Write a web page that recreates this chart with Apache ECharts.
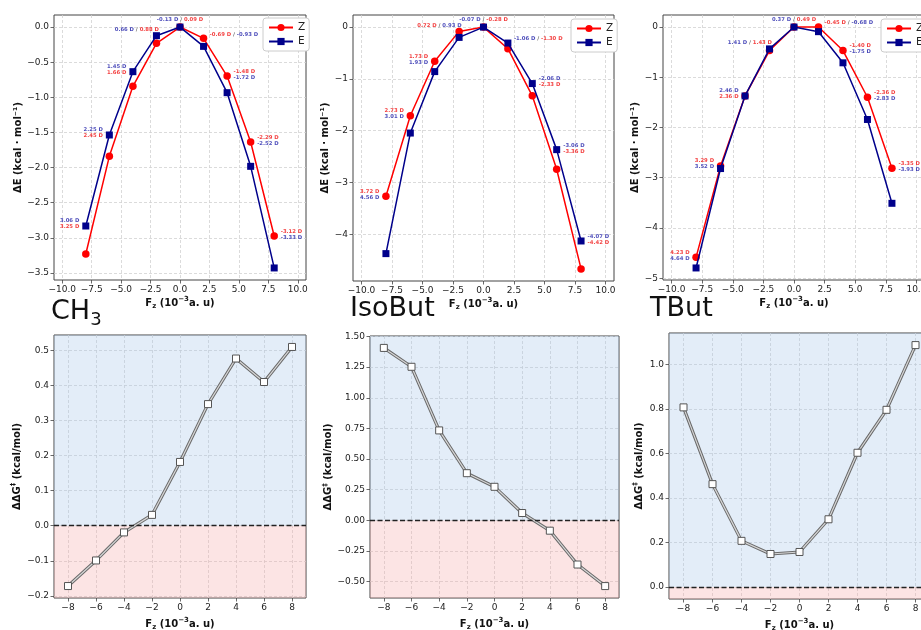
<!DOCTYPE html>
<html>
<head>
<meta charset="utf-8">
<script src="https://cdn.jsdelivr.net/npm/echarts@6/dist/echarts.min.js"></script>
<style>
  html, body { margin: 0; padding: 0; background: #fff; }
  #c { width: 921px; height: 630px; }
</style>
</head>
<body>
<div id="c"></div>
<script>
// Field strengths F_z (10^-3 a.u.)
const fieldValues = [-8, -6, -4, -2, 0, 2, 4, 6, 8];

// Relative energies ΔE (kcal/mol) of the Z and E isomers
const ch3Z = [-3.23, -1.84, -0.844, -0.232, 0, -0.161, -0.697, -1.636, -2.973];
const ch3E = [-2.831, -1.536, -0.635, -0.123, 0, -0.275, -0.934, -1.982, -3.428];
const isoZ = [-3.263, -1.712, -0.660, -0.083, 0, -0.417, -1.327, -2.744, -4.667];
const isoE = [-4.372, -2.045, -0.859, -0.199, 0, -0.308, -1.090, -2.365, -4.128];
const tbuZ = [-4.585, -2.764, -1.372, -0.468, 0, 0.0, -0.468, -1.398, -2.810];
const tbuE = [-4.796, -2.817, -1.372, -0.435, 0, -0.092, -0.712, -1.840, -3.509];

// Dipole moments (D) printed next to each field point
const ch3DipZ = ['3.25', '2.45', '1.66', '0.88', '0.09', '-0.69', '-1.48', '-2.29', '-3.12'];
const ch3DipE = ['3.06', '2.25', '1.45', '0.66', '-0.13', '-0.93', '-1.72', '-2.52', '-3.33'];
const isoDipZ = ['3.72', '2.73', '1.73', '0.72', '-0.28', '-1.30', '-2.33', '-3.36', '-4.42'];
const isoDipE = ['4.56', '3.01', '1.93', '0.93', '-0.07', '-1.06', '-2.06', '-3.06', '-4.07'];
const tbuDipZ = ['4.23', '3.29', '2.36', '1.43', '0.49', '-0.45', '-1.40', '-2.36', '-3.35'];
const tbuDipE = ['4.64', '3.52', '2.46', '1.41', '0.37', '-0.68', '-1.75', '-2.83', '-3.93'];

// Barrier differences ΔΔG‡ (kcal/mol)
const ch3DDG = [-0.172, -0.099, -0.019, 0.031, 0.182, 0.347, 0.477, 0.410, 0.510];
const isoDDG = [1.407, 1.253, 0.734, 0.385, 0.274, 0.060, -0.084, -0.360, -0.536];
const tbuDDG = [0.807, 0.462, 0.207, 0.148, 0.157, 0.304, 0.603, 0.796, 1.087];

// Tick values
const topXTicks = [-10, -7.5, -5, -2.5, 0, 2.5, 5, 7.5, 10];
const ch3YTicks = [0, -0.5, -1, -1.5, -2, -2.5, -3, -3.5];
const isoYTicks = [0, -1, -2, -3, -4];
const tbuYTicks = [0, -1, -2, -3, -4, -5];
const bottomXTicks = [-8, -6, -4, -2, 0, 2, 4, 6, 8];
const ch3DDGTicks = [-0.2, -0.1, 0, 0.1, 0.2, 0.3, 0.4, 0.5];
const isoDDGTicks = [-0.5, -0.25, 0, 0.25, 0.5, 0.75, 1.0, 1.25, 1.5];
const tbuDDGTicks = [0, 0.2, 0.4, 0.6, 0.8, 1.0];

const panelNames = ['CH3', 'IsoBut', 'TBut'];

const FONT = 'DejaVu Sans';
const RED = '#ff0000';
const NAVY = '#00008b';
const TXT_RED = '#f01010';
const TXT_BLUE = '#1c1ca8';

function fmt(dec) {
  return v => (v < -1e-9 ? '\u2212' : '') + Math.abs(v).toFixed(dec);
}
// matplotlib-like autoscale: 5 % padding around the data
function padded(values, includeZero) {
  let lo = Math.min(...values), hi = Math.max(...values);
  if (includeZero) { lo = Math.min(lo, 0); hi = Math.max(hi, 0); }
  const p = (hi - lo) * 0.05;
  return [lo - p, hi + p];
}

const grids = [
  { left: 54, top: 15, width: 252, height: 265 },
  { left: 353, top: 15, width: 261, height: 266 },
  { left: 663, top: 15, width: 262, height: 265 },
  { left: 54, top: 335, width: 252, height: 263 },
  { left: 370, top: 336, width: 249, height: 262 },
  { left: 669, top: 333, width: 261, height: 266 }
].map(g => Object.assign({ show: true, borderColor: '#444', borderWidth: 1, backgroundColor: 'transparent', outerBoundsMode: 'none' }, g));

const xName = {
  text: '{b|F}{sub|z}{b| (10}{sup|\u22123}{b|a. u)}',
  rich: {
    b: { fontFamily: FONT, fontWeight: 'bold', fontSize: 10, color: '#111', lineHeight: 14 },
    sub: { fontFamily: FONT, fontWeight: 'bold', fontSize: 7, color: '#111', lineHeight: 14, verticalAlign: 'bottom' },
    sup: { fontFamily: FONT, fontWeight: 'bold', fontSize: 7, color: '#111', lineHeight: 14, verticalAlign: 'top' }
  }
};

const tickStyle = { fontFamily: FONT, fontSize: 9, color: '#222' };
const splitStyle = { show: true, lineStyle: { type: [3, 2], color: '#d2d2d2', width: 0.8 } };

function makeXAxis(gridIndex, ticks, range, dec, gap) {
  return {
    type: 'value', gridIndex, min: range[0], max: range[1], position: 'bottom',
    axisLine: { show: false, onZero: false },
    axisTick: { show: true, length: 3.5, customValues: ticks, lineStyle: { color: '#444', width: 0.8 } },
    axisLabel: Object.assign({ customValues: ticks, margin: 5, formatter: fmt(dec) }, tickStyle),
    splitLine: splitStyle,
    name: xName.text, nameLocation: 'middle', nameGap: gap,
    nameTextStyle: { rich: xName.rich }
  };
}
function makeYAxis(gridIndex, ticks, range, dec, nameText, nameRich, gap) {
  return {
    type: 'value', gridIndex, min: range[0], max: range[1], position: 'left',
    axisLine: { show: false, onZero: false },
    axisTick: { show: true, length: 3.5, customValues: ticks, lineStyle: { color: '#444', width: 0.8 } },
    axisLabel: Object.assign({ customValues: ticks, margin: 5, formatter: fmt(dec) }, tickStyle),
    splitLine: splitStyle,
    name: nameText, nameLocation: 'middle', nameGap: gap, nameRotate: 90,
    nameTextStyle: { rich: nameRich }
  };
}

const dERich = {
  b: { fontFamily: FONT, fontWeight: 'bold', fontSize: 10, color: '#111', lineHeight: 14 }
};
const dERichText = '{b|\u0394E (kcal \u00b7 mol\u207b\u00b9)}';
const ddgRich = {
  b: { fontFamily: FONT, fontWeight: 'bold', fontSize: 10, color: '#111', lineHeight: 14 },
  sup: { fontFamily: FONT, fontWeight: 'bold', fontSize: 7, color: '#111', lineHeight: 14, verticalAlign: 'top' }
};
const ddgRichText = '{b|\u0394\u0394G}{sup|\u2021}{b| (kcal/mol)}';

const topX = [-10.7, 10.7];
const bottomX = [-9, 9];
const topSets = [
  { z: ch3Z, e: ch3E, dz: ch3DipZ, de: ch3DipE, ticks: ch3YTicks, dec: 1 },
  { z: isoZ, e: isoE, dz: isoDipZ, de: isoDipE, ticks: isoYTicks, dec: 0 },
  { z: tbuZ, e: tbuE, dz: tbuDipZ, de: tbuDipE, ticks: tbuYTicks, dec: 0 }
];
const bottomSets = [
  { v: ch3DDG, ticks: ch3DDGTicks, dec: 1, gap: 30 },
  { v: isoDDG, ticks: isoDDGTicks, dec: 2, gap: 34 },
  { v: tbuDDG, ticks: tbuDDGTicks, dec: 1, gap: 23 }
];

const xAxes = [], yAxes = [], series = [];

topSets.forEach((s, i) => {
  xAxes.push(makeXAxis(i, topXTicks, topX, 1, 16));
  yAxes.push(makeYAxis(i, s.ticks, padded(s.z.concat(s.e), false), s.dec, dERichText, dERich, 21));
  series.push({
    type: 'line', name: 'Z', xAxisIndex: i, yAxisIndex: i,
    data: fieldValues.map((x, k) => [x, s.z[k]]),
    symbol: 'circle', symbolSize: 7.5, color: RED,
    lineStyle: { color: RED, width: 1.5 }, itemStyle: { color: RED },
    z: 3
  });
  series.push({
    type: 'line', name: 'E', xAxisIndex: i, yAxisIndex: i,
    data: fieldValues.map((x, k) => [x, s.e[k]]),
    symbol: 'rect', symbolSize: 7, color: NAVY,
    lineStyle: { color: NAVY, width: 1.5 }, itemStyle: { color: NAVY },
    z: 4
  });
  // dipole-moment annotations, anchored on the upper of the two points
  const annot = fieldValues.map((x, k) => {
    const zUp = s.z[k] > s.e[k];
    const y = Math.max(s.z[k], s.e[k]);
    let label;
    if (x <= -4) label = { position: 'left', distance: 6, offset: [0, -2] };
    else if (x === -2) label = { position: 'left', distance: 0, offset: [3, -6] };
    else if (x === 0) label = { position: 'top', distance: 3.5, offset: [0, 0] };
    else if (x === 2) label = { position: 'right', distance: 5.5, offset: [0, -4] };
    else label = { position: 'right', distance: 6, offset: [0, -1.5] };
    const zt = '{r|' + s.dz[k] + ' D}';
    const et = '{u|' + s.de[k] + ' D}';
    const first = zUp ? zt : et, second = zUp ? et : zt;
    label.show = true;
    label.formatter = (x >= -2 && x <= 2) ? first + '{s| / }' + second : first + '\n' + second;
    return { value: [x, y], label };
  });
  series.push({
    type: 'scatter', name: 'dipole', xAxisIndex: i, yAxisIndex: i,
    data: annot, symbolSize: 1, itemStyle: { color: 'rgba(0,0,0,0)' }, silent: true, z: 6,
    label: {
      show: true,
      rich: {
        r: { fontFamily: FONT, fontWeight: 'bold', fontSize: 5.3, color: TXT_RED, lineHeight: 6 },
        u: { fontFamily: FONT, fontWeight: 'bold', fontSize: 5.3, color: TXT_BLUE, lineHeight: 6 },
        s: { fontFamily: FONT, fontWeight: 'bold', fontSize: 5.3, color: '#333', lineHeight: 6 }
      }
    }
  });
});

bottomSets.forEach((s, j) => {
  const gi = j + 3;
  const yr = padded(s.v, true);
  xAxes.push(makeXAxis(gi, bottomXTicks, bottomX, 0, 19));
  yAxes.push(makeYAxis(gi, s.ticks, yr, s.dec, ddgRichText, ddgRich, s.gap));
  const pts = fieldValues.map((x, k) => [x, s.v[k]]);
  series.push({
    type: 'line', name: 'ddg-outline', xAxisIndex: gi, yAxisIndex: gi,
    data: pts, showSymbol: false, lineStyle: { color: '#6a6a6a', width: 3.2 }, z: 3, silent: true,
    markArea: {
      silent: true,
      data: [
        [{ yAxis: 0, itemStyle: { color: 'rgba(162,195,232,0.3)' } }, { yAxis: yr[1] }],
        [{ yAxis: yr[0], itemStyle: { color: 'rgba(245,165,165,0.3)' } }, { yAxis: 0 }]
      ]
    },
    markLine: {
      silent: true, symbol: 'none', label: { show: false },
      lineStyle: { type: [5, 2.5], color: '#222', width: 1.4 },
      data: [{ yAxis: 0 }]
    }
  });
  series.push({
    type: 'line', name: 'ddg', xAxisIndex: gi, yAxisIndex: gi,
    data: pts, symbol: 'rect', symbolSize: 7,
    lineStyle: { color: '#d6d6d6', width: 1.2 },
    itemStyle: { color: '#ffffff', borderColor: '#555', borderWidth: 1 }, z: 4, silent: true
  });
});

const legendPos = [[263, 18], [571, 19], [881, 19]];
const legends = legendPos.map(p => ({
  data: ['Z', 'E'], orient: 'vertical', left: p[0], top: p[1],
  itemWidth: 24, itemHeight: 9, itemGap: 3, padding: [4, 4, 4, 5],
  backgroundColor: '#fff', borderColor: '#cccccc', borderWidth: 1, borderRadius: 3,
  selectedMode: false,
  textStyle: { fontFamily: FONT, fontSize: 10.5, color: '#222' }
}));

const titleRich = {
  m: { fontFamily: FONT, fontWeight: 'normal', fontSize: 27, color: '#111' },
  s: { fontFamily: FONT, fontWeight: 'normal', fontSize: 18, color: '#111', verticalAlign: 'bottom', lineHeight: 34 }
};
const titles = [
  { text: '{m|CH}{s|3}', left: 51, top: 295 },
  { text: '{m|' + panelNames[1] + '}', left: 350, top: 295 },
  { text: '{m|' + panelNames[2] + '}', left: 650, top: 295 }
].map(t => Object.assign({ padding: 0, textStyle: { fontWeight: 'normal', rich: titleRich } }, t));

const chart = echarts.init(document.getElementById('c'));
chart.setOption({
  animation: false,
  backgroundColor: '#fff',
  title: titles,
  legend: legends,
  grid: grids,
  xAxis: xAxes,
  yAxis: yAxes,
  series
});
</script>
</body>
</html>
